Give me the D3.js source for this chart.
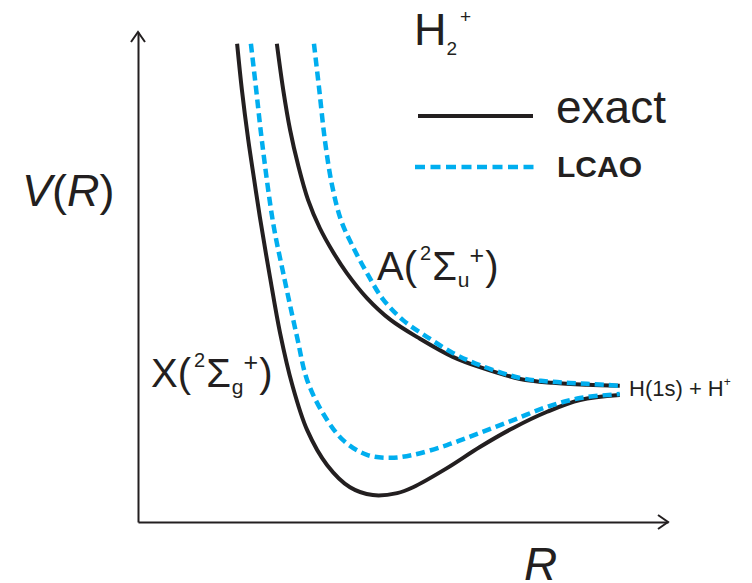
<!DOCTYPE html>
<html>
<head>
<meta charset="utf-8">
<script src="https://cdn.jsdelivr.net/npm/d3@7"></script>
<style>
  body { margin: 0; background: #fff; }
  text { font-family: "Liberation Sans", Arial, sans-serif; fill: #231f20; }
</style>
</head>
<body>
<script>
// Potential curves (R and V in arbitrary units)
var xExactR = [1.87, 1.96, 2.08, 2.19, 2.30, 2.49, 2.68, 2.91, 3.19, 3.57, 4.00, 4.43, 4.89, 5.19, 5.83, 6.45, 7.08, 7.72, 8.34, 9.09];
var xExactV = [9.76, 8.82, 7.80, 7.00, 6.22, 5.00, 3.86, 2.80, 1.88, 1.16, 0.71, 0.55, 0.59, 0.71, 1.10, 1.53, 1.92, 2.25, 2.49, 2.59];

var xLcaoR = [2.13, 2.23, 2.34, 2.55, 2.74, 3.00, 3.19, 3.49, 3.87, 4.32, 4.76, 5.19, 5.83, 6.45, 7.08, 7.72, 8.34, 9.09];
var xLcaoV = [9.76, 8.82, 7.76, 6.10, 5.08, 3.78, 2.90, 2.22, 1.67, 1.37, 1.31, 1.37, 1.57, 1.82, 2.08, 2.35, 2.53, 2.61];

var aExactR = [2.62, 2.74, 2.87, 3.02, 3.21, 3.43, 3.68, 3.94, 4.32, 4.76, 5.32, 5.94, 6.45, 7.21, 7.83, 8.47, 9.09];
var aExactV = [9.76, 8.82, 8.00, 7.29, 6.57, 6.00, 5.51, 5.08, 4.57, 4.13, 3.74, 3.37, 3.16, 2.92, 2.84, 2.80, 2.78];

var aLcaoR = [3.32, 3.42, 3.53, 3.66, 3.83, 4.04, 4.32, 4.62, 5.00, 5.45, 5.94, 6.45, 7.21, 7.83, 8.47, 9.09];
var aLcaoV = [9.76, 8.82, 7.76, 6.88, 6.16, 5.65, 5.08, 4.55, 4.12, 3.78, 3.45, 3.20, 2.94, 2.86, 2.82, 2.78];

var legendLabels = ["exact", "LCAO"];

var svgWidth = 752;
var svgHeight = 583;
var blue = "#00aeef";
var ink = "#231f20";

var svg = d3.select("body")
    .append("svg")
    .attr("width", svgWidth)
    .attr("height", svgHeight);

// Scales
var xScale = d3.scaleLinear().domain([0, 10]).range([138, 668]);
var yScale = d3.scaleLinear().domain([0, 10]).range([522, 32]);

// Axes without ticks
svg.append("g")
    .attr("transform", `translate(0, ${yScale(0)})`)
    .call(d3.axisBottom(xScale).ticks(0).tickSizeOuter(0))
    .select(".domain").attr("stroke", ink).attr("stroke-width", 2);

svg.append("g")
    .attr("transform", `translate(${xScale(0)}, 0)`)
    .call(d3.axisLeft(yScale).ticks(0).tickSizeOuter(0))
    .select(".domain").attr("stroke", ink).attr("stroke-width", 2);

// Arrow heads
var ax = xScale(10), ay = yScale(0);
svg.append("path")
    .attr("d", `M${ax - 10},${ay - 7} L${ax},${ay} L${ax - 10},${ay + 7}`)
    .attr("fill", "none").attr("stroke", ink).attr("stroke-width", 2);
var tx = xScale(0), ty = yScale(10);
svg.append("path")
    .attr("d", `M${tx - 7},${ty + 10} L${tx},${ty} L${tx + 7},${ty + 10}`)
    .attr("fill", "none").attr("stroke", ink).attr("stroke-width", 2);

// Curves
var line = d3.line()
    .x(d => xScale(d[0]))
    .y(d => yScale(d[1]))
    .curve(d3.curveCatmullRom.alpha(0.5));

function drawCurve(rs, vs, dashed) {
    var pts = d3.zip(rs, vs);
    svg.append("path")
        .datum(pts)
        .attr("d", line)
        .attr("fill", "none")
        .attr("stroke", dashed ? blue : ink)
        .attr("stroke-width", dashed ? 4.5 : 4)
        .attr("stroke-dasharray", dashed ? "9,5" : null);
}

drawCurve(xExactR, xExactV, false);
drawCurve(aExactR, aExactV, false);
drawCurve(xLcaoR, xLcaoV, true);
drawCurve(aLcaoR, aLcaoV, true);

// Legend
svg.append("line")
    .attr("x1", 418).attr("x2", 533).attr("y1", 116).attr("y2", 116)
    .attr("stroke", ink).attr("stroke-width", 4);
svg.append("line")
    .attr("x1", 415).attr("x2", 535).attr("y1", 167).attr("y2", 167)
    .attr("stroke", blue).attr("stroke-width", 4.5).attr("stroke-dasharray", "10,5.5");
svg.append("text")
    .attr("x", 556).attr("y", 123)
    .attr("font-size", 46)
    .text(legendLabels[0]);
svg.append("text")
    .attr("x", 557).attr("y", 177)
    .attr("font-size", 30)
    .attr("font-weight", "bold")
    .text(legendLabels[1]);

// H2+ title
var title = svg.append("text").attr("x", 414).attr("y", 45).attr("font-size", 45);
title.append("tspan").text("H");
title.append("tspan").attr("font-size", 19).attr("dy", 10).text("2");
title.append("tspan").attr("font-size", 19).attr("dx", 3).attr("dy", -32).text("+");

// Axis labels
var vLabel = svg.append("text").attr("x", 22).attr("y", 206).attr("font-size", 45);
vLabel.append("tspan").attr("font-style", "italic").text("V");
vLabel.append("tspan").text("(");
vLabel.append("tspan").attr("font-style", "italic").text("R");
vLabel.append("tspan").text(")");

svg.append("text")
    .attr("x", 524).attr("y", 580)
    .attr("font-size", 46)
    .attr("font-style", "italic")
    .text("R");

// State labels
function stateLabel(x, y, letter, sym) {
    var t = svg.append("text").attr("x", x).attr("y", y).attr("font-size", 40);
    t.append("tspan").text(letter + "(");
    t.append("tspan").attr("font-size", 20).attr("dx", 3).attr("dy", -20).text("2");
    t.append("tspan").attr("dx", 1).attr("dy", 20).text("\u03A3");
    t.append("tspan").attr("font-size", 21).attr("dx", 1).attr("dy", 7).text(sym);
    t.append("tspan").attr("font-size", 25).attr("dx", 0).attr("dy", -23).text("+");
    t.append("tspan").attr("dx", 1).attr("dy", 16).text(")");
}
stateLabel(377, 280, "A", "u");
stateLabel(151, 387, "X", "g");

// Asymptote label
var asym = svg.append("text").attr("x", 629).attr("y", 396).attr("font-size", 22);
asym.append("tspan").text("H(1s) + H");
asym.append("tspan").attr("font-size", 12).attr("dy", -10).text("+");
</script>
</body>
</html>
